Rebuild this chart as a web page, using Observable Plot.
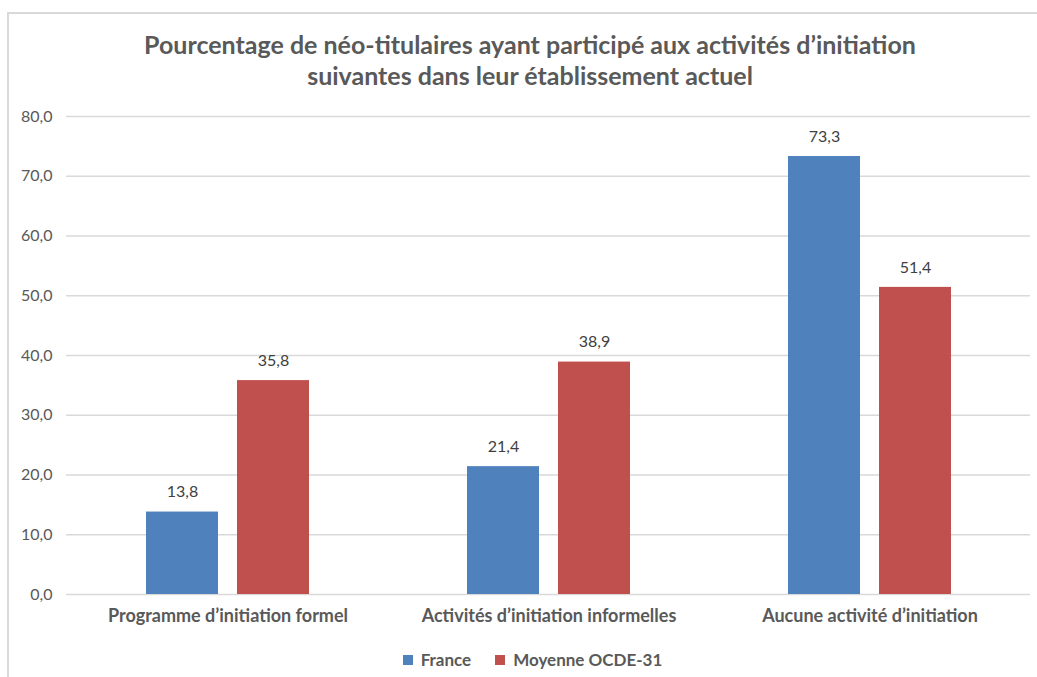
<!DOCTYPE html>
<html>
<head>
<meta charset="utf-8">
<script src="https://cdn.jsdelivr.net/npm/d3@7"></script>
<script src="https://cdn.jsdelivr.net/npm/@observablehq/plot@0.6"></script>
<style>
  html, body { margin: 0; padding: 0; background: #fff; }
  #wrap { position: relative; width: 1037px; height: 677px; overflow: hidden; font-family: Lato, "Open Sans", sans-serif; }
  #frameTop { position: absolute; left: 7px; top: 12px; width: 1030px; height: 2px; background: #d9d9d9; }
  #frameLeft { position: absolute; left: 7px; top: 12px; width: 2px; height: 665px; background: #d9d9d9; }
  #title { position: absolute; left: 0; top: 29px; width: 1060px; text-align: center; font-weight: bold; font-size: 25px; line-height: 31px; color: #595959; }
  #chart { position: absolute; left: 0; top: 100px; }
  #legend { position: absolute; left: 14px; top: 649px; width: 1037px; display: flex; justify-content: center; gap: 24px; font-weight: bold; font-size: 17px; color: #595959; }
  .item { display: flex; align-items: center; gap: 8px; }
  .sw { width: 10px; height: 10px; display: inline-block; }
</style>
</head>
<body>
<div id="wrap">
  <div id="frameTop"></div>
  <div id="frameLeft"></div>
  <div id="title">Pourcentage de néo-titulaires ayant participé aux activités d’initiation<br>suivantes dans leur établissement actuel</div>
  <div id="chart"></div>
  <div id="legend"></div>
</div>
<script>
const categories = ["Programme d’initiation formel", "Activités d’initiation informelles", "Aucune activité d’initiation"];
const series = ["France", "Moyenne OCDE-31"];
const franceValues = [13.8, 21.4, 73.3];
const oecdValues = [35.8, 38.9, 51.4];
const colors = ["#4F81BD", "#C0504D"];
const yTicks = [0, 10, 20, 30, 40, 50, 60, 70, 80];

const france = categories.map((c, i) => ({category: c, series: series[0], value: franceValues[i]}));
const oecd = categories.map((c, i) => ({category: c, series: series[1], value: oecdValues[i]}));
const fmt = d => d.toFixed(1).replace(".", ",");

const chart = Plot.plot({
  width: 1037,
  height: 540,
  marginTop: 16,
  marginBottom: 46,
  marginLeft: 66,
  marginRight: 7,
  style: {fontFamily: "Lato, 'Open Sans', sans-serif", fontSize: "16px", color: "#595959", background: "transparent"},
  x: {domain: categories, paddingInner: 0.493, paddingOuter: 0.2465, label: null},
  y: {domain: [0, 80], ticks: yTicks, label: null},
  color: {domain: series, range: colors},
  marks: [
    Plot.gridY(yTicks, {stroke: "#d9d9d9", strokeOpacity: 1, strokeWidth: 1.5}),
    Plot.axisY(yTicks, {tickFormat: fmt, tickSize: 0, tickPadding: 14, fill: "#595959", fontSize: 16, label: null}),
    Plot.axisX({tickSize: 0, tickPadding: 15, fontWeight: "bold", fontSize: 18, fill: "#595959", label: null}),
    Plot.barY(france, {x: "category", y: "value", fill: "series", insetRight: 91}),
    Plot.barY(oecd, {x: "category", y: "value", fill: "series", insetLeft: 91}),
    Plot.text(france, {x: "category", y: "value", text: d => fmt(d.value), dx: -45.5, dy: -20, fill: "#404040", fontSize: 16}),
    Plot.text(oecd, {x: "category", y: "value", text: d => fmt(d.value), dx: 45.5, dy: -20, fill: "#404040", fontSize: 16})
  ]
});
document.getElementById("chart").appendChild(chart);

const legend = document.getElementById("legend");
series.forEach((s, i) => {
  const item = document.createElement("div");
  item.className = "item";
  const sw = document.createElement("span");
  sw.className = "sw";
  sw.style.background = colors[i];
  item.appendChild(sw);
  item.appendChild(document.createTextNode(s));
  legend.appendChild(item);
});
</script>
</body>
</html>
